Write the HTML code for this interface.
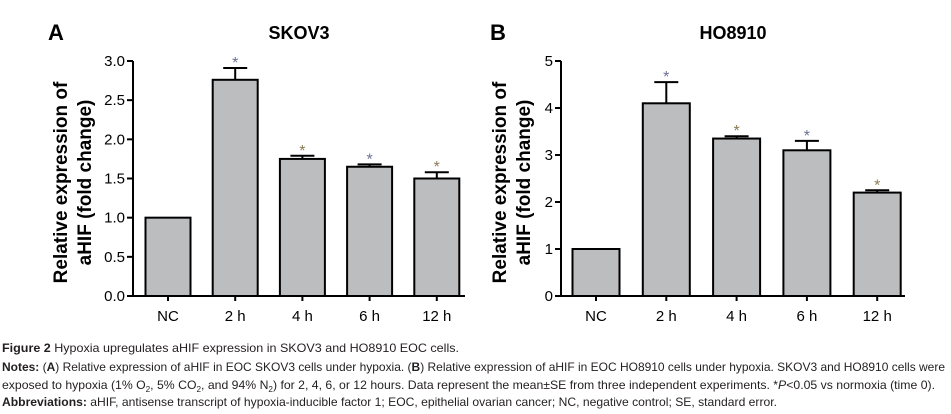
<!DOCTYPE html>
<html><head><meta charset="utf-8"><style>
body{margin:0;background:#fff;}
svg{display:block;font-family:"Liberation Sans",Arial,sans-serif;}
</style></head><body>
<svg id="fig" width="951" height="414" viewBox="0 0 951 414">
<g id="chartA"></g>
<g id="chartB"></g>
<g font-size="12" fill="#231f20">
<text x="2" y="352" textLength="457" lengthAdjust="spacingAndGlyphs"><tspan font-weight="bold">Figure 2</tspan> Hypoxia upregulates aHIF expression in SKOV3 and HO8910 EOC cells.</text>
<text x="2" y="371" textLength="943" lengthAdjust="spacingAndGlyphs"><tspan font-weight="bold">Notes:</tspan> (<tspan font-weight="bold">A</tspan>) Relative expression of aHIF in EOC SKOV3 cells under hypoxia. (<tspan font-weight="bold">B</tspan>) Relative expression of aHIF in EOC HO8910 cells under hypoxia. SKOV3 and HO8910 cells were</text>
<text x="2" y="389" textLength="933" lengthAdjust="spacingAndGlyphs">exposed to hypoxia (1% O<tspan font-size="8" dy="3">2</tspan><tspan dy="-3">, 5% CO</tspan><tspan font-size="8" dy="3">2</tspan><tspan dy="-3">, and 94% N</tspan><tspan font-size="8" dy="3">2</tspan><tspan dy="-3">) for 2, 4, 6, or 12 hours. Data represent the mean±SE from three independent experiments. *</tspan><tspan font-style="italic">P</tspan>&lt;0.05 vs normoxia (time 0).</text>
<text x="2" y="406" textLength="775" lengthAdjust="spacingAndGlyphs"><tspan font-weight="bold">Abbreviations:</tspan> aHIF, antisense transcript of hypoxia-inducible factor 1; EOC, epithelial ovarian cancer; NC, negative control; SE, standard error.</text>
</g>
</svg>
<script>
const categories = ["NC","2 h","4 h","6 h","12 h"];
const valuesA = [1.0, 2.76, 1.75, 1.65, 1.50];
const errorsA = [0, 0.15, 0.04, 0.03, 0.08];
const sigA = [false, true, true, true, true];
const ticksA = ["0.0","0.5","1.0","1.5","2.0","2.5","3.0"];
const valuesB = [1.0, 4.1, 3.35, 3.1, 2.2];
const errorsB = [0, 0.45, 0.05, 0.2, 0.05];
const sigB = [false, true, true, true, true];
const ticksB = ["0","1","2","3","4","5"];

const NS = "http://www.w3.org/2000/svg";
function mk(parent, tag, attrs, text){
  const e = document.createElementNS(NS, tag);
  for (const k in attrs) e.setAttribute(k, attrs[k]);
  if (text !== undefined) e.textContent = text;
  parent.appendChild(e);
  return e;
}
function draw(g, cfg){
  const {axisX, axisEnd, y0, yTop, maxV, firstBar, step, barW, vals, errs, sig, ticks, letter, letterX, title, titleX, labelX} = cfg;
  const yS = v => y0 - (v / maxV) * (y0 - yTop);
  const xS = i => firstBar + i * step;
  let t;
  t = mk(g,"text",{x:letterX,y:40,"font-size":22,"font-weight":"bold",fill:"#000"},letter);
  
  
  t = mk(g,"text",{x:titleX,y:39,"font-size":18,"font-weight":"bold","text-anchor":"middle",fill:"#000"},title);
  
  
  const yl = mk(g,"text",{transform:`translate(${labelX},${(y0+yTop)/2+4}) rotate(-90)`,"font-size":19,"font-weight":"bold","text-anchor":"middle",fill:"#000"});
  
  
  mk(yl,"tspan",{x:0,dy:-6},"Relative expression of");
  mk(yl,"tspan",{x:0,dy:24},"aHIF (fold change)");
  for (let i=0;i<vals.length;i++){
    const cx = xS(i), top = yS(vals[i]);
    if (errs[i]>0){
      const ey = yS(vals[i]+errs[i]);
      const el = mk(g,"path",{d:`M${cx} ${top}V${ey}M${cx-12} ${ey}H${cx+12}`,stroke:"#000","stroke-width":2,fill:"none"});
      
      
    }
    const r = mk(g,"rect",{x:cx-barW/2,y:top,width:barW,height:y0-top,fill:"#bcbdbf",stroke:"#000","stroke-width":2});
    
    
    if (sig[i]){
      const sy = yS(vals[i]+errs[i]) - 6;
      const s = mk(g,"text",{x:cx,y:sy+6,"font-size":16,"text-anchor":"middle",fill:i%2?"#6b6f93":"#8a7a55"},"*");
      
      
    }
    const tk = mk(g,"line",{x1:cx,x2:cx,y1:y0,y2:y0+5,stroke:"#000","stroke-width":2});
    
    
    const lb = mk(g,"text",{x:cx,y:y0+25,"font-size":15,"text-anchor":"middle",fill:"#000"},categories[i]);
    
    
  }
  ticks.forEach((tl)=>{
    const v = parseFloat(tl), y = yS(v);
    const l = mk(g,"line",{x1:axisX-6,x2:axisX,y1:y,y2:y,stroke:"#000","stroke-width":2});
    
    
    const tx = mk(g,"text",{x:axisX-8,y:y+5,"font-size":15,"text-anchor":"end",fill:"#000"},tl);
    
    
  });
  const ax = mk(g,"path",{d:`M${axisX} ${yTop}V${y0}H${axisEnd}`,stroke:"#000","stroke-width":2,fill:"none"});
  
  
}
draw(document.getElementById("chartA"),{axisX:133,axisEnd:465,y0:296,yTop:61,maxV:3,firstBar:168,step:67.2,barW:45,vals:valuesA,errs:errorsA,sig:sigA,ticks:ticksA,letter:"A",letterX:48,title:"SKOV3",titleX:299,labelX:73});
draw(document.getElementById("chartB"),{axisX:561,axisEnd:905,y0:296,yTop:61,maxV:5,firstBar:596,step:70.3,barW:47,vals:valuesB,errs:errorsB,sig:sigB,ticks:ticksB,letter:"B",letterX:490,title:"HO8910",titleX:733,labelX:512});
</script>
</body></html>
